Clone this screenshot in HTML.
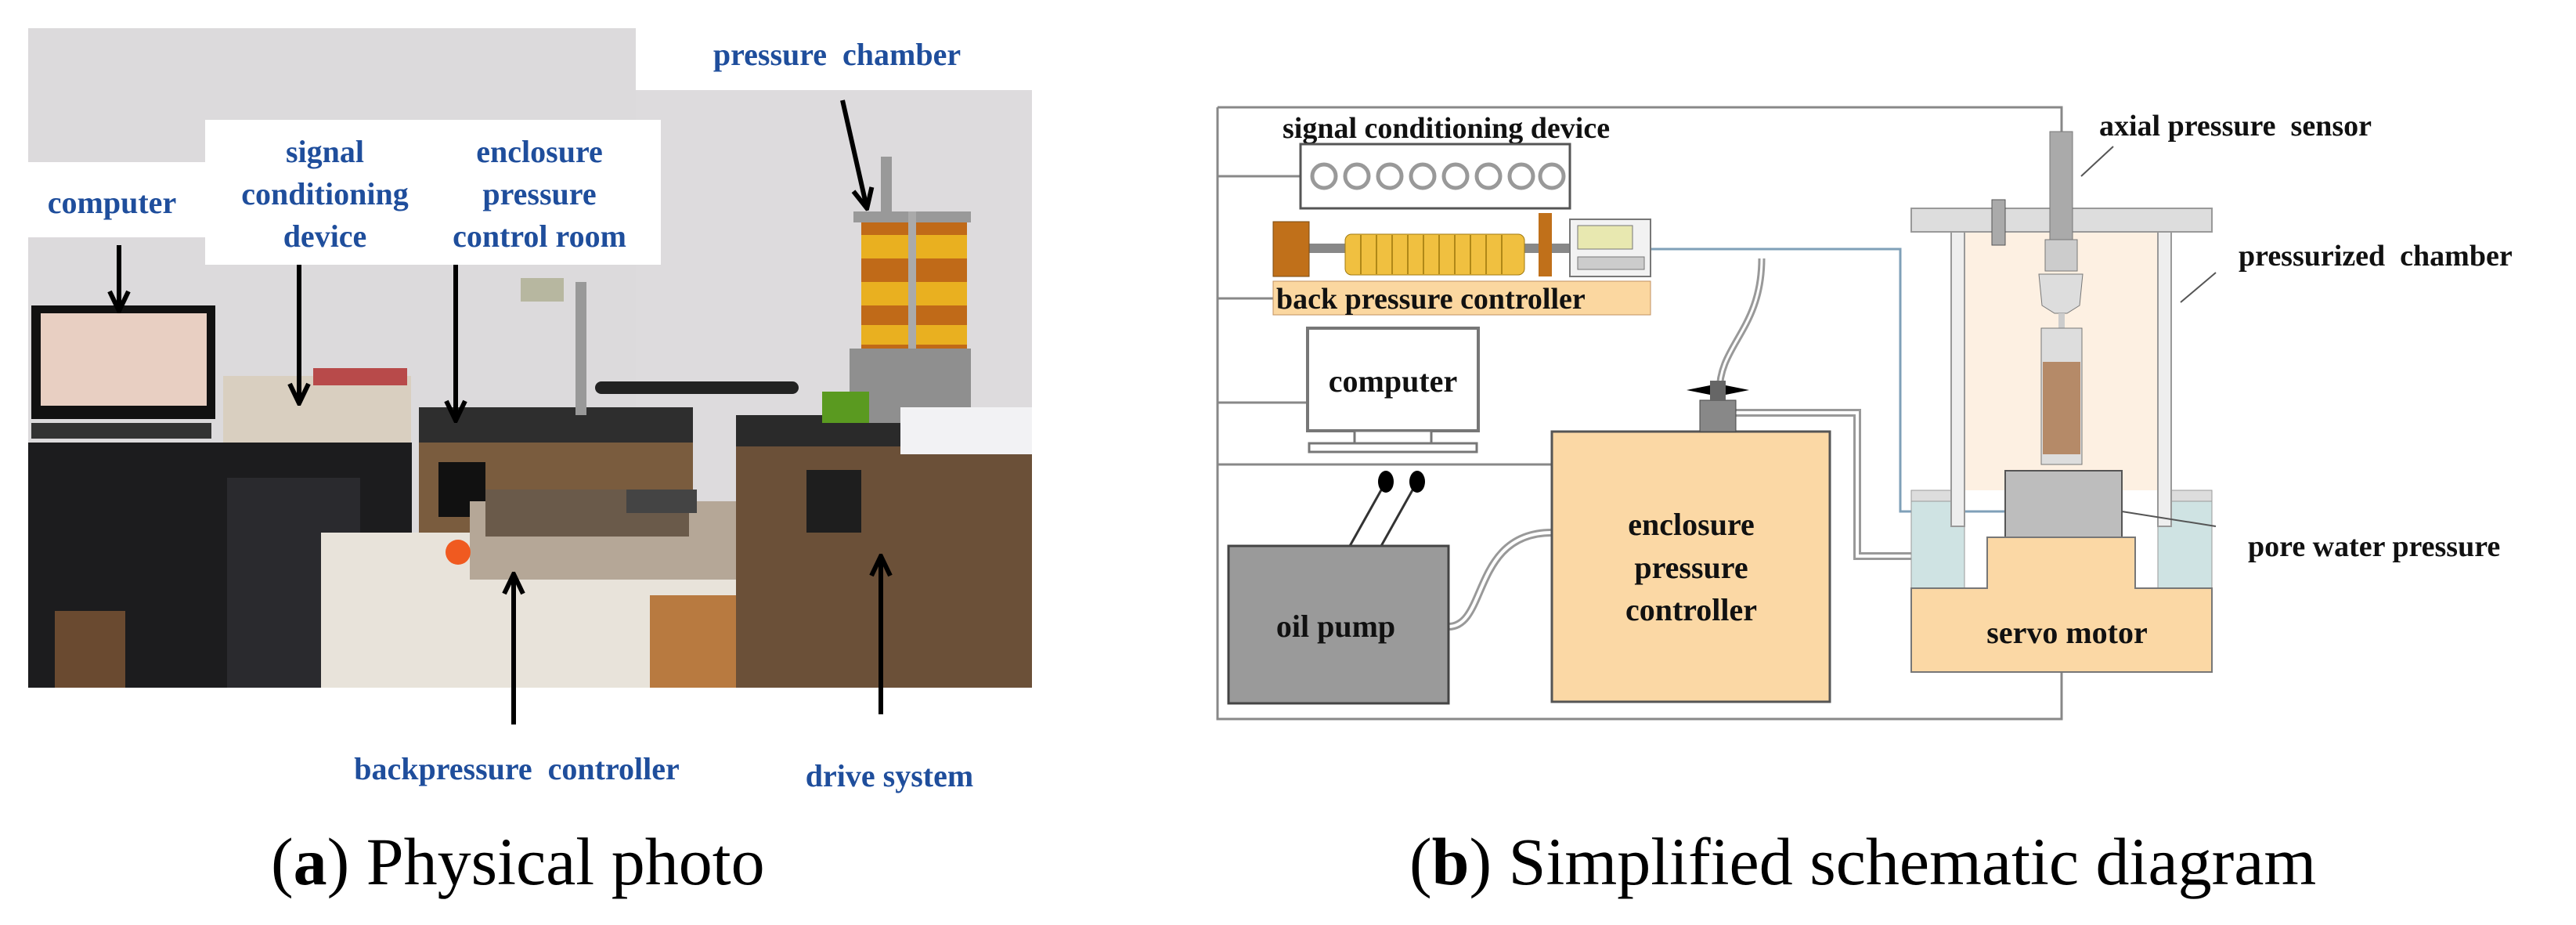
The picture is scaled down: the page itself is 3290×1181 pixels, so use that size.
<!DOCTYPE html>
<html><head><meta charset="utf-8"><style>
html,body{margin:0;padding:0;background:#fff;}
svg{display:block;}
.bl{font-family:"Liberation Serif",serif;font-weight:bold;fill:#1f4e9c;font-size:40px;text-anchor:middle;}
.bk{font-family:"Liberation Serif",serif;font-weight:bold;fill:#111;font-size:40px;}
.cap{font-family:"Liberation Serif",serif;font-size:86px;fill:#000;}
</style></head><body>
<svg width="3290" height="1181" viewBox="0 0 3290 1181" xmlns="http://www.w3.org/2000/svg">
<defs>
<marker id="ah" markerWidth="10" markerHeight="10" refX="8" refY="5" orient="auto" markerUnits="userSpaceOnUse" viewBox="0 0 10 10"><path d="M0,0 L9,5 L0,10" fill="none" stroke="#000" stroke-width="2"/></marker>
<marker id="ah2" markerWidth="30" markerHeight="30" refX="26" refY="15" orient="auto" markerUnits="userSpaceOnUse"><path d="M2,3 L27,15 L2,27" fill="none" stroke="#000" stroke-width="6"/></marker>
</defs>
<!-- PHOTO -->
<rect x="36" y="36" width="776" height="842" fill="#dcdadc"/>
<rect x="812" y="115" width="506" height="763" fill="#dddbdd"/>
<rect x="36" y="207" width="226" height="96" fill="#fff"/>
<rect x="262" y="153" width="582" height="185" fill="#fff"/>
<!-- desk -->
<rect x="36" y="565" width="490" height="313" fill="#1c1c1e"/>
<rect x="290" y="610" width="170" height="268" fill="#2a2a2e"/>
<rect x="40" y="390" width="235" height="145" fill="#111"/>
<rect x="52" y="400" width="212" height="118" fill="#e8cfc2"/>
<rect x="40" y="540" width="230" height="20" fill="#333"/>
<rect x="285" y="480" width="240" height="85" fill="#d9cfc0"/>
<rect x="400" y="470" width="120" height="22" fill="#b84a4a"/>
<rect x="70" y="780" width="90" height="98" fill="#6a4a30"/>
<!-- enclosure box -->
<rect x="535" y="520" width="350" height="170" fill="#7a5c3e"/>
<rect x="535" y="520" width="350" height="45" fill="#2e2e2e"/>
<rect x="560" y="590" width="60" height="70" fill="#111"/>
<rect x="735" y="360" width="14" height="170" fill="#999"/>
<rect x="665" y="355" width="55" height="30" fill="#b7b7a0"/>
<rect x="760" y="487" width="260" height="16" fill="#222" rx="8"/>
<!-- cloth table -->
<rect x="410" y="680" width="560" height="198" fill="#e8e3da"/>
<rect x="830" y="760" width="140" height="118" fill="#b87a40"/>
<rect x="600" y="640" width="340" height="100" fill="#b5a797"/>
<rect x="620" y="625" width="260" height="60" fill="#6a5a4a"/>
<rect x="800" y="625" width="90" height="30" fill="#444"/>
<circle cx="585" cy="705" r="16" fill="#f05a20"/>
<!-- drive cabinet -->
<rect x="940" y="550" width="378" height="328" fill="#6b5038"/>
<rect x="940" y="530" width="378" height="40" fill="#2a2a2a"/>
<rect x="1030" y="600" width="70" height="80" fill="#1e1e1e"/>
<!-- pressure chamber -->
<rect x="1085" y="445" width="155" height="95" fill="#8f8f8f"/>
<rect x="1100" y="280" width="135" height="165" fill="#c06a18"/>
<rect x="1100" y="300" width="135" height="30" fill="#e9b020"/>
<rect x="1100" y="360" width="135" height="30" fill="#e9b020"/>
<rect x="1100" y="415" width="135" height="25" fill="#e9b020"/>
<rect x="1090" y="270" width="150" height="14" fill="#999"/>
<rect x="1160" y="270" width="10" height="175" fill="#aaa"/>
<rect x="1125" y="200" width="14" height="75" fill="#999"/>
<rect x="1150" y="520" width="168" height="60" fill="#f2f2f4"/>
<rect x="1050" y="500" width="60" height="40" fill="#5a9a20"/>
<!-- photo labels -->
<text class="bl" x="143" y="272">computer</text>
<text class="bl" x="415" y="207">signal</text>
<text class="bl" x="415" y="261">conditioning</text>
<text class="bl" x="415" y="315">device</text>
<text class="bl" x="689" y="207">enclosure</text>
<text class="bl" x="689" y="261">pressure</text>
<text class="bl" x="689" y="315">control room</text>
<text class="bl" x="1069" y="83">pressure&#160;&#160;chamber</text>
<text class="bl" x="660" y="995">backpressure&#160;&#160;controller</text>
<text class="bl" x="1136" y="1004">drive system</text>
<g stroke="#000" stroke-width="6" fill="none" marker-end="url(#ah2)">
<line x1="152" y1="313" x2="152" y2="396"/>
<line x1="382" y1="338" x2="382" y2="514"/>
<line x1="582" y1="338" x2="582" y2="536"/>
<line x1="1076" y1="128" x2="1107" y2="265"/>
<line x1="656" y1="925" x2="656" y2="734"/>
<line x1="1125" y1="912" x2="1125" y2="711"/>
</g>
<!-- SCHEMATIC -->
<g fill="none" stroke="#888" stroke-width="3">
<polyline points="1555,137 2633,137 2633,918 1555,918 1555,137"/>
<line x1="1555" y1="225" x2="1661" y2="225"/>
<line x1="1555" y1="381" x2="1626" y2="381"/>
<line x1="1555" y1="514" x2="1670" y2="514"/>
<line x1="1555" y1="593" x2="1982" y2="593"/>
</g>
<!-- blue line -->
<polyline points="2108,318 2427,318 2427,653 2570,653" fill="none" stroke="#7fa0b8" stroke-width="3"/>
<!-- tubes -->
<polyline points="2217,527 2372,527 2372,710 2509,710" fill="none" stroke="#999" stroke-width="10"/>
<polyline points="2217,527 2372,527 2372,710 2509,710" fill="none" stroke="#fff" stroke-width="4"/>
<path d="M1850,800 C1900,800 1880,680 1982,680" fill="none" stroke="#999" stroke-width="10"/>
<path d="M1850,800 C1900,800 1880,680 1982,680" fill="none" stroke="#fff" stroke-width="4"/>
<path d="M2196,500 C2196,440 2250,420 2250,330" fill="none" stroke="#999" stroke-width="9"/>
<path d="M2196,500 C2196,440 2250,420 2250,330" fill="none" stroke="#fff" stroke-width="3"/>
<!-- signal device -->
<text class="bk" x="1638" y="176" style="font-size:38px">signal conditioning device</text>
<rect x="1661" y="184" width="344" height="82" fill="#fff" stroke="#555" stroke-width="3"/>
<g fill="none" stroke="#999" stroke-width="5">
<circle cx="1691" cy="225" r="15"/><circle cx="1733" cy="225" r="15"/><circle cx="1775" cy="225" r="15"/><circle cx="1817" cy="225" r="15"/><circle cx="1859" cy="225" r="15"/><circle cx="1901" cy="225" r="15"/><circle cx="1943" cy="225" r="15"/><circle cx="1982" cy="225" r="15"/>
</g>
<!-- BPC -->
<rect x="1672" y="311" width="335" height="12" fill="#888"/>
<rect x="1626" y="283" width="46" height="70" fill="#c0701a" stroke="#7a4a10"/>
<rect x="1718" y="299" width="229" height="52" fill="#f0c040" stroke="#a07a10" rx="8"/>
<g stroke="#b08818" stroke-width="2"><line x1="1738" y1="300" x2="1738" y2="350"/><line x1="1758" y1="300" x2="1758" y2="350"/><line x1="1778" y1="300" x2="1778" y2="350"/><line x1="1798" y1="300" x2="1798" y2="350"/><line x1="1818" y1="300" x2="1818" y2="350"/><line x1="1838" y1="300" x2="1838" y2="350"/><line x1="1858" y1="300" x2="1858" y2="350"/><line x1="1878" y1="300" x2="1878" y2="350"/><line x1="1898" y1="300" x2="1898" y2="350"/><line x1="1918" y1="300" x2="1918" y2="350"/></g>
<rect x="1965" y="272" width="17" height="81" fill="#c0701a"/>
<rect x="2005" y="280" width="103" height="73" fill="#f2f2f2" stroke="#777" stroke-width="2"/>
<rect x="2015" y="288" width="70" height="30" fill="#e8e8b0" stroke="#777"/>
<rect x="2015" y="328" width="85" height="16" fill="#ccc" stroke="#777"/>
<rect x="1626" y="359" width="482" height="43" fill="#fbd7a0" stroke="#c09060"/>
<text class="bk" x="1630" y="394" style="font-size:38px">back pressure controller</text>
<!-- computer -->
<rect x="1670" y="419" width="218" height="131" fill="#fff" stroke="#777" stroke-width="4"/>
<rect x="1730" y="550" width="98" height="16" fill="#fff" stroke="#777" stroke-width="3"/>
<rect x="1672" y="566" width="214" height="11" fill="#fff" stroke="#777" stroke-width="3"/>
<text class="bk" x="1779" y="500" text-anchor="middle">computer</text>
<!-- oil pump -->
<line x1="1724" y1="697" x2="1770" y2="615" stroke="#333" stroke-width="3"/>
<line x1="1764" y1="697" x2="1810" y2="615" stroke="#333" stroke-width="3"/>
<ellipse cx="1770" cy="615" rx="10" ry="14" fill="#000"/>
<ellipse cx="1810" cy="615" rx="10" ry="14" fill="#000"/>
<rect x="1569" y="697" width="281" height="201" fill="#9a9a9a" stroke="#444" stroke-width="3"/>
<text class="bk" x="1706" y="813" text-anchor="middle">oil pump</text>
<!-- enclosure pressure controller -->
<rect x="1982" y="551" width="355" height="345" fill="#fbd8a5" stroke="#555" stroke-width="3"/>
<rect x="2171" y="511" width="46" height="40" fill="#888" stroke="#444"/>
<path d="M2154,498 L2194,490 L2234,498 L2194,506 Z" fill="#000"/>
<rect x="2184" y="486" width="20" height="26" fill="#666"/>
<text class="bk" x="2160" y="683" text-anchor="middle">enclosure</text>
<text class="bk" x="2160" y="738" text-anchor="middle">pressure</text>
<text class="bk" x="2160" y="792" text-anchor="middle">controller</text>
<!-- chamber -->
<rect x="2509" y="296" width="247" height="330" fill="#fdf0e2"/>
<rect x="2441" y="626" width="68" height="125" fill="#cfe3e3" stroke="#999"/>
<rect x="2756" y="626" width="69" height="125" fill="#cfe3e3" stroke="#999"/>
<rect x="2441" y="626" width="68" height="14" fill="#ddd" stroke="#999"/>
<rect x="2756" y="626" width="69" height="14" fill="#ddd" stroke="#999"/>
<rect x="2492" y="296" width="17" height="376" fill="#eee" stroke="#999" stroke-width="2"/>
<rect x="2756" y="296" width="17" height="376" fill="#eee" stroke="#999" stroke-width="2"/>
<rect x="2441" y="266" width="384" height="30" fill="#ddd" stroke="#999" stroke-width="2"/>
<rect x="2544" y="255" width="17" height="58" fill="#aaa" stroke="#555"/>
<rect x="2618" y="168" width="29" height="142" fill="#aaa" stroke="#777"/>
<rect x="2612" y="306" width="41" height="40" fill="#ccc" stroke="#777"/>
<path d="M2604,350 L2660,350 L2656,390 L2640,400 L2624,400 L2608,390 Z" fill="#ddd" stroke="#777"/>
<rect x="2629" y="400" width="8" height="20" fill="#ccc"/>
<rect x="2607" y="419" width="52" height="174" fill="#ddd" stroke="#777"/>
<rect x="2609" y="462" width="48" height="118" fill="#b58a68"/>
<rect x="2561" y="601" width="149" height="85" fill="#bdbdbd" stroke="#555" stroke-width="2"/>
<path d="M2441,751 L2538,751 L2538,686 L2727,686 L2727,751 L2825,751 L2825,858 L2441,858 Z" fill="#fbd8a5" stroke="#777" stroke-width="2"/>
<text class="bk" x="2640" y="821" text-anchor="middle">servo motor</text>
<!-- right labels -->
<text class="bk" x="2681" y="173" style="font-size:38px">axial pressure&#160;&#160;sensor</text>
<text class="bk" x="2859" y="339" style="font-size:38px">pressurized&#160;&#160;chamber</text>
<text class="bk" x="2871" y="710" style="font-size:38px">pore water pressure</text>
<g stroke="#555" stroke-width="2">
<line x1="2699" y1="187" x2="2658" y2="225"/>
<line x1="2830" y1="348" x2="2785" y2="386"/>
<line x1="2710" y1="653" x2="2830" y2="672"/>
</g>
<!-- captions -->
<text class="cap" x="346" y="1129">(<tspan font-weight="bold">a</tspan>) Physical photo</text>
<text class="cap" x="1800" y="1129">(<tspan font-weight="bold">b</tspan>) Simplified schematic diagram</text>
</svg>
</body></html>
